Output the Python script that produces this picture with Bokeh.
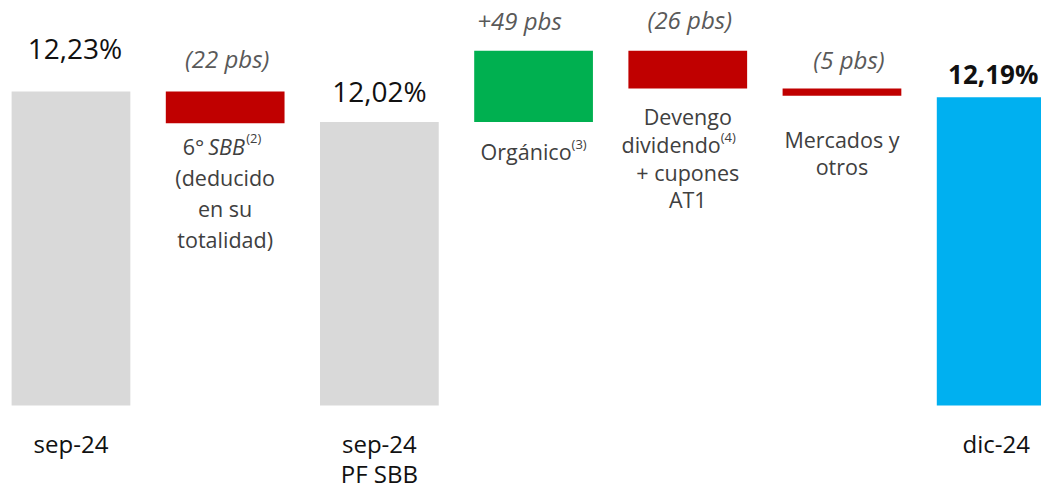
from bokeh.plotting import figure
from bokeh.models import Range1d
from bokeh.core.properties import value
from bokeh.embed import file_html
from bokeh.resources import INLINE

# --- data -------------------------------------------------------------
categories = ["sep-24", "6° SBB", "sep-24 PF SBB", "Orgánico",
              "Devengo dividendo + cupones AT1", "Mercados y otros", "dic-24"]
total_index = [0, 2, 6]
total_values = [12.23, 12.02, 12.19]            # CET1 ratio, %
total_labels = ["12,23%", "12,02%", "12,19%"]
delta_index = [1, 3, 4, 5]
delta_bps = [-22, 49, -26, -5]                  # basis points
delta_labels = ["(22 pbs)", "+49 pbs", "(26 pbs)", "(5 pbs)"]
axis_lines = [["sep-24"], ["sep-24", "PF SBB"], ["dic-24"]]

# --- style ------------------------------------------------------------
FONT = value("Open Sans")
GREY_BAR, RED, GREEN, BLUE = "#D9D9D9", "#C00000", "#00B050", "#00B0F0"
DESC_COLOR, PBS_COLOR, TOTAL_COLOR = "#404040", "#595959", "#111111"
BASE = 10.064          # value where the (broken-axis) bars start
BAR_W = 0.77
LIFT = -11             # shared vertical nudge for all text

p = figure(width=1041, height=489, output_backend="svg", toolbar_location=None,
           x_range=Range1d(-0.457, 6.294), y_range=Range1d(9.485, 12.857),
           x_axis_location=None, y_axis_location=None, min_border=0)
p.grid.visible = False
p.outline_line_color = None


def txt(x, y, s, size, color, style="normal", align="center", dx=0, dy=0):
    p.text(x=[x], y=[y], text=[s], x_offset=dx, y_offset=dy + LIFT,
           text_font=FONT, text_font_size=size, text_font_style=style,
           text_color=color, text_align=align, text_baseline="alphabetic")


# --- totals -------------------------------------------------------------
total_colors = [GREY_BAR, GREY_BAR, BLUE]
p.vbar(x=total_index, width=BAR_W, bottom=BASE, top=total_values,
       fill_color=total_colors, line_color=None)
total_dy = [-32, -20, -12]
total_dx = [4, 0, -3]
total_style = ["normal", "normal", "bold"]
total_size = ["28px", "28px", "26px"]
for i, v, lab, dx, dy, st, sz in zip(total_index, total_values, total_labels,
                                     total_dx, total_dy, total_style, total_size):
    txt(i, v, lab, sz, TOTAL_COLOR, st, dx=dx, dy=dy)

# --- floating deltas ----------------------------------------------------
# start level for each step: first from the opening ratio, the rest
# chained from the pro-forma ratio
starts = []
level = total_values[0]
for k, b in enumerate(delta_bps):
    if k == 1:
        level = total_values[1]
    starts.append(level)
    level = level + b / 100.0
ends = [s + b / 100.0 for s, b in zip(starts, delta_bps)]
tops = [max(s, e) for s, e in zip(starts, ends)]
bottoms = [min(s, e) for s, e in zip(starts, ends)]
colors = [GREEN if b > 0 else RED for b in delta_bps]
p.vbar(x=delta_index, width=BAR_W, bottom=bottoms, top=tops,
       fill_color=colors, line_color=None)

pbs_dx = [2, -14, 2, 7]
pbs_dy = [-22, -19, -20, -18]
for i, t, lab, dx, dy in zip(delta_index, tops, delta_labels, pbs_dx, pbs_dy):
    txt(i, t, lab, "24px", PBS_COLOR, "italic", dx=dx, dy=dy)

# --- descriptions under the delta bars ---------------------------------
SZ, SUP = "21.5px", "13px"
# 6° SBB(2) (deducido en su totalidad)
x, y = delta_index[0], bottoms[0]
txt(x, y, "6°", SZ, DESC_COLOR, align="right", dx=-21, dy=34)
txt(x, y, "SBB", SZ, DESC_COLOR, "italic", align="left", dx=-17, dy=34)
txt(x, y, "(2)", SUP, DESC_COLOR, align="left", dx=21, dy=26)
for n, line in enumerate(["(deducido", "en su", "totalidad)"], start=1):
    txt(x, y, line, SZ, DESC_COLOR, dy=34 + 31 * n)

# Orgánico(3)
x, y = delta_index[1], bottoms[1]
txt(x, y, "Orgánico", SZ, DESC_COLOR, align="right", dx=38, dy=41)
txt(x, y, "(3)", SUP, DESC_COLOR, align="left", dx=38, dy=33)

# Devengo dividendo(4) + cupones AT1
x, y = delta_index[2], bottoms[2]
txt(x, y, "Devengo", SZ, DESC_COLOR, dy=39)
txt(x, y, "dividendo", SZ, DESC_COLOR, align="right", dx=33, dy=39 + 28)
txt(x, y, "(4)", SUP, DESC_COLOR, align="left", dx=33, dy=39 + 28 - 8)
txt(x, y, "+ cupones", SZ, DESC_COLOR, dy=39 + 56)
txt(x, y, "AT1", SZ, DESC_COLOR, dy=39 + 83)

# Mercados y otros
x, y = delta_index[3], bottoms[3]
txt(x, y, "Mercados y", SZ, DESC_COLOR, dy=55)
txt(x, y, "otros", SZ, DESC_COLOR, dy=55 + 27)

# --- category labels below the bars ------------------------------------
for i, lines in zip(total_index, axis_lines):
    for n, line in enumerate(lines):
        txt(i, BASE, line, "24px", TOTAL_COLOR, dy=49 + 30 * n)

open("out.html", "w").write(file_html(p, INLINE))
